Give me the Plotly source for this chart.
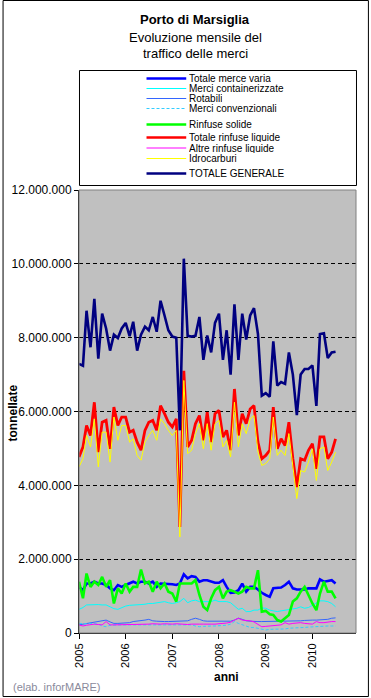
import plotly.graph_objects as go
import pandas as pd

# ---------------- data (million tonnes, monthly Jan 2005 - Jul 2010) ----------------
months = pd.date_range("2005-01-01", periods=67, freq="MS")
year_labels = ["2005", "2006", "2007", "2008", "2009", "2010"]
y_tick_values_mt = [0, 2, 4, 6, 8, 10, 12]

totale_merce_varia = [1.25, 1.16, 1.34, 1.34, 1.39, 1.34, 1.34, 1.30, 1.21, 1.16,
                      1.30, 1.25, 1.30, 1.34, 1.39, 1.34, 1.39, 1.39, 1.34, 1.39,
                      1.25, 1.34, 1.34, 1.32, 1.32, 1.30, 1.34, 1.59, 1.48, 1.54,
                      1.52, 1.39, 1.43, 1.43, 1.39, 1.36, 1.36, 1.43, 1.25, 1.09,
                      1.10, 1.16, 1.34, 1.12, 1.25, 1.25, 1.18, 1.09, 1.03, 0.98,
                      1.21, 1.21, 1.23, 1.30, 1.39, 1.21, 1.18, 1.18, 1.18, 1.21,
                      1.21, 1.21, 1.45, 1.39, 1.41, 1.43, 1.34]
merci_containerizzate = [0.64, 0.69, 0.76, 0.77, 0.77, 0.77, 0.76, 0.76, 0.71, 0.66,
                         0.64, 0.69, 0.73, 0.75, 0.75, 0.76, 0.77, 0.78, 0.80, 0.80,
                         0.82, 0.83, 0.85, 0.82, 0.80, 0.82, 0.85, 0.94, 0.82, 0.87,
                         0.89, 0.85, 0.85, 0.85, 0.85, 0.89, 0.85, 0.85, 0.85, 0.82,
                         0.74, 0.64, 0.67, 0.58, 0.58, 0.62, 0.62, 0.68, 0.67, 0.62,
                         0.60, 0.58, 0.60, 0.62, 0.62, 0.64, 0.67, 0.71, 0.67, 0.69,
                         0.76, 0.82, 0.87, 0.87, 0.85, 0.80, 0.71]
rotabili = [0.22, 0.24, 0.26, 0.28, 0.30, 0.33, 0.35, 0.35, 0.30, 0.26,
            0.26, 0.26, 0.28, 0.28, 0.31, 0.32, 0.32, 0.35, 0.37, 0.33,
            0.32, 0.31, 0.31, 0.31, 0.31, 0.31, 0.31, 0.32, 0.33, 0.37,
            0.40, 0.37, 0.33, 0.32, 0.32, 0.31, 0.31, 0.31, 0.31, 0.32,
            0.35, 0.40, 0.37, 0.33, 0.32, 0.31, 0.31, 0.31, 0.31, 0.31,
            0.31, 0.31, 0.31, 0.31, 0.32, 0.32, 0.33, 0.33, 0.34, 0.35,
            0.35, 0.35, 0.35, 0.35, 0.37, 0.40, 0.41]
merci_convenzionali = [0.26, 0.25, 0.25, 0.26, 0.26, 0.24, 0.19, 0.17, 0.21, 0.22,
                       0.22, 0.22, 0.22, 0.22, 0.22, 0.22, 0.22, 0.22, 0.22, 0.22,
                       0.24, 0.24, 0.24, 0.24, 0.24, 0.24, 0.24, 0.24, 0.24, 0.22,
                       0.19, 0.17, 0.18, 0.19, 0.19, 0.19, 0.19, 0.19, 0.21, 0.24,
                       0.31, 0.26, 0.22, 0.17, 0.15, 0.15, 0.13, 0.10, 0.08, 0.10,
                       0.10, 0.10, 0.10, 0.11, 0.13, 0.13, 0.14, 0.15, 0.15, 0.16,
                       0.17, 0.17, 0.18, 0.19, 0.19, 0.19, 0.19]
rinfuse_solide = [1.39, 0.94, 1.61, 1.25, 1.39, 1.30, 1.52, 1.25, 1.43, 0.80,
                  1.21, 1.07, 1.34, 1.12, 1.25, 1.25, 1.72, 1.34, 1.39, 1.12,
                  1.39, 1.21, 1.34, 1.12, 1.07, 0.85, 1.34, 1.34, 1.34, 1.34,
                  1.43, 1.03, 0.71, 0.62, 0.94, 1.16, 1.25, 0.94, 1.12, 1.16,
                  1.12, 1.07, 1.12, 1.25, 1.21, 1.21, 1.70, 0.58, 0.60, 0.51,
                  0.49, 0.35, 0.31, 0.40, 0.49, 0.85, 0.94, 1.12, 1.25, 1.03,
                  0.80, 0.62, 1.07, 1.39, 1.12, 1.12, 0.94]
totale_rinfuse_liquide = [4.77, 5.04, 5.62, 5.35, 6.25, 4.90, 5.71, 5.76, 4.99, 6.12,
                          5.62, 5.85, 5.85, 5.44, 5.49, 5.17, 4.95, 5.49, 5.71, 5.76,
                          5.49, 6.16, 5.94, 5.71, 5.58, 5.80, 2.87, 7.10, 5.04, 5.22,
                          5.67, 5.89, 5.22, 5.98, 5.17, 5.94, 6.03, 5.31, 5.49, 4.95,
                          6.61, 5.35, 5.94, 5.67, 6.07, 6.16, 5.17, 4.72, 4.81, 4.95,
                          6.12, 4.99, 5.26, 5.08, 5.71, 4.72, 3.95, 4.72, 4.68, 4.95,
                          5.13, 4.45, 5.31, 5.31, 4.72, 4.90, 5.26]
altre_rinfuse_liquide = [0.22, 0.19, 0.21, 0.23, 0.24, 0.23, 0.22, 0.31, 0.22, 0.22,
                         0.22, 0.22, 0.23, 0.23, 0.24, 0.24, 0.23, 0.24, 0.24, 0.25,
                         0.24, 0.24, 0.25, 0.24, 0.24, 0.25, 0.24, 0.24, 0.23, 0.24,
                         0.25, 0.24, 0.24, 0.25, 0.24, 0.24, 0.24, 0.26, 0.27, 0.29,
                         0.35, 0.40, 0.35, 0.35, 0.33, 0.30, 0.24, 0.17, 0.18, 0.19,
                         0.19, 0.21, 0.22, 0.28, 0.24, 0.26, 0.28, 0.28, 0.26, 0.24,
                         0.24, 0.31, 0.28, 0.28, 0.30, 0.31, 0.31]
idrocarburi = [4.50, 4.72, 5.35, 5.04, 5.80, 4.50, 5.44, 5.44, 4.63, 5.85,
               5.22, 5.62, 5.62, 5.17, 5.26, 4.81, 4.68, 5.17, 5.35, 5.49,
               5.22, 5.80, 5.67, 5.49, 5.35, 5.49, 2.60, 6.84, 4.86, 4.95,
               5.40, 5.67, 4.99, 5.67, 4.95, 5.67, 5.76, 5.04, 5.22, 4.77,
               6.25, 5.04, 5.67, 5.40, 5.80, 5.89, 4.90, 4.54, 4.59, 4.72,
               5.85, 4.81, 4.95, 4.81, 5.40, 4.45, 3.64, 4.40, 4.36, 4.63,
               4.99, 4.13, 4.99, 5.04, 4.40, 4.63, 4.90]
totale_generale = [7.29, 7.24, 8.73, 7.74, 9.05, 7.43, 8.65, 8.25, 7.65, 8.08,
                   7.99, 8.25, 8.40, 8.04, 8.43, 7.65, 8.08, 8.30, 8.20, 8.56,
                   8.16, 9.00, 8.60, 8.20, 8.03, 8.00, 5.49, 10.14, 8.05, 8.03,
                   8.05, 8.56, 7.40, 8.06, 7.60, 8.40, 8.65, 7.40, 8.20, 7.00,
                   8.90, 7.40, 8.65, 7.95, 8.60, 8.80, 8.10, 6.43, 6.50, 6.40,
                   7.90, 6.70, 6.80, 6.75, 7.60, 7.00, 5.90, 7.00, 7.15, 7.15,
                   7.25, 6.15, 8.10, 8.12, 7.45, 7.60, 7.62]

UNIT = 1_000_000  # tonnes per million

# ---------------- styles ----------------
series = [
    ("Totale merce varia", totale_merce_varia, "#0000FF", 2.6, "solid"),
    ("Merci containerizzate", merci_containerizzate, "#00FFFF", 1, "solid"),
    ("Rotabili", rotabili, "#3366FF", 1, "solid"),
    ("Merci convenzionali", merci_convenzionali, "#33CCFF", 1, "3px,2px"),
    ("Rinfuse solide", rinfuse_solide, "#00FF00", 2.6, "solid"),
    ("Totale rinfuse liquide", totale_rinfuse_liquide, "#FF0000", 2.8, "solid"),
    ("Altre rinfuse liquide", altre_rinfuse_liquide, "#FF00FF", 1, "solid"),
    ("Idrocarburi", idrocarburi, "#FFFF00", 1, "solid"),
    ("TOTALE GENERALE", totale_generale, "#000080", 2.6, "solid"),
]

FONT = "Liberation Sans, Arial, sans-serif"
W, H = 371, 698
L, R, T, B = 77, 15, 190, 65
PW, PH = W - L - R, H - T - B


def fx(p):
    return (p - L) / PW


def fy(p):
    return (H - B - p) / PH


fig = go.Figure()
for name, vals, color, width, dash in series:
    fig.add_trace(go.Scatter(
        x=months, y=[v * UNIT for v in vals], mode="lines", name=name,
        line=dict(color=color, width=width, dash=dash), showlegend=False,
        hovertemplate="%{x|%b %Y}: %{y:,.0f}<extra>" + name + "</extra>"))

shapes = []
annotations = []

# outer border
shapes.append(dict(type="rect", xref="paper", yref="paper",
                   x0=fx(0.5), x1=fx(368.5), y0=fy(0.5), y1=fy(696.5),
                   line=dict(color="black", width=1), layer="below"))
# plot-area border (grey)
shapes.append(dict(type="rect", xref="paper", yref="paper", x0=0, x1=1, y0=0, y1=1,
                   line=dict(color="#808080", width=1), layer="above"))

# legend box
shapes.append(dict(type="rect", xref="paper", yref="paper",
                   x0=fx(77.5), x1=fx(356.5), y0=fy(70.5), y1=fy(185.5),
                   line=dict(color="black", width=1), fillcolor="white", layer="above"))
legend_rows_y = [78.5, 88.5, 98.5, 108.5, 124.5, 137.5, 148, 158.5, 173.5]
for (name, vals, color, width, dash), ly in zip(series, legend_rows_y):
    shapes.append(dict(type="line", xref="paper", yref="paper",
                       x0=fx(145), x1=fx(185), y0=fy(ly), y1=fy(ly),
                       line=dict(color=color, width=min(width, 2.5), dash=dash), layer="above"))
    annotations.append(dict(xref="paper", yref="paper", x=fx(187), y=fy(ly),
                            xanchor="left", yanchor="middle", showarrow=False, text=name,
                            height=9, borderpad=0, valign="middle",
                            font=dict(family=FONT, size=10, color="black")))

# titles
annotations.append(dict(xref="paper", yref="paper", x=fx(194), y=fy(19), xanchor="center",
                        yanchor="middle", showarrow=False, text="<b>Porto di Marsiglia</b>",
                        font=dict(family=FONT, size=13, color="black")))
annotations.append(dict(xref="paper", yref="paper", x=fx(194), y=fy(37), xanchor="center",
                        yanchor="middle", showarrow=False, text="Evoluzione mensile del",
                        font=dict(family=FONT, size=13, color="black")))
annotations.append(dict(xref="paper", yref="paper", x=fx(194), y=fy(54), xanchor="center",
                        yanchor="middle", showarrow=False, text="traffico delle merci",
                        font=dict(family=FONT, size=13, color="black")))
# axis titles
annotations.append(dict(xref="paper", yref="paper", x=fx(226), y=fy(677), xanchor="center",
                        yanchor="middle", showarrow=False, text="<b>anni</b>",
                        font=dict(family=FONT, size=12, color="black")))
annotations.append(dict(xref="paper", yref="paper", x=fx(11), y=fy(413), xanchor="center",
                        yanchor="middle", showarrow=False, text="<b>tonnellate</b>", textangle=-90,
                        font=dict(family=FONT, size=12, color="black")))
# footer
annotations.append(dict(xref="paper", yref="paper", x=fx(9), y=fy(687), xanchor="left",
                        yanchor="middle", showarrow=False, text="(elab. inforMARE)",
                        font=dict(family=FONT, size=11, color="#8a8a9c")))

fig.update_layout(
    width=W, height=H,
    margin=dict(l=L, r=R, t=T, b=B, pad=0),
    paper_bgcolor="white", plot_bgcolor="#C0C0C0",
    separators=",.",
    font=dict(family=FONT, size=12, color="black"),
    showlegend=False,
    shapes=shapes, annotations=annotations,
    xaxis=dict(type="date", range=["2005-01-01", "2010-12-08"],
               tickvals=[f"{y}-01-01" for y in year_labels], ticktext=year_labels,
               tickangle=-90, ticks="outside", ticklen=5, tickcolor="black",
               showline=True, linecolor="black", linewidth=1, showgrid=False,
               zeroline=False, tickfont=dict(family=FONT, size=11, color="black")),
    yaxis=dict(range=[0, 12 * UNIT], tickvals=[v * UNIT for v in y_tick_values_mt],
               tickformat=",.0f", ticks="outside", ticklen=4, tickcolor="black",
               showline=True, linecolor="black", linewidth=1,
               showgrid=True, gridcolor="black", gridwidth=1, griddash="4px,3px",
               zeroline=False, tickfont=dict(family=FONT, size=12, color="black")),
)

fig.write_html("out.html", config={"displayModeBar": False},
               post_script="document.body.style.margin='0';document.body.style.overflow='hidden';")
